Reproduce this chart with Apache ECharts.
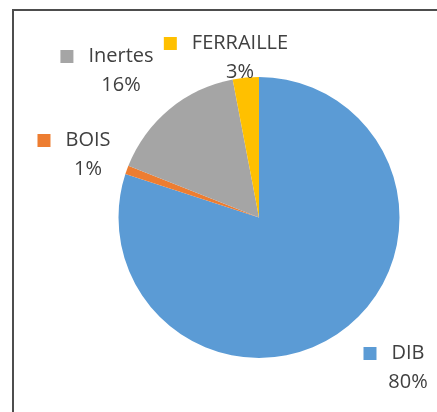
<!DOCTYPE html>
<html>
<head>
<meta charset="utf-8">
<script src="https://cdn.jsdelivr.net/npm/echarts@6/dist/echarts.min.js"></script>
<style>
  html, body { margin: 0; padding: 0; background: #fff; }
  #chart { width: 437px; height: 412px; }
</style>
</head>
<body>
<div id="chart"></div>
<script>
// data
var categories = ['DIB', 'BOIS', 'Inertes', 'FERRAILLE']
var values = [80, 1, 16, 3]
var colors = ['#5B9BD5', '#ED7D31', '#A5A5A5', '#FFC000']

// label anchor (centre of each label block)
var labelPos = [[394, 368], [74, 155], [107, 71], [226, 58]]

var chart = echarts.init(document.getElementById('chart'))

var rich = {
  gap: { width: 28, height: 13 },
  name: { fontSize: 20, lineHeight: 29, padding: [0, 0, 0, 15], color: '#404040' },
  pct: { fontSize: 20, lineHeight: 29, color: '#404040' }
}
colors.forEach(function (c, i) {
  rich['sq' + i] = { width: 13, height: 13, backgroundColor: c }
})

chart.setOption({
  backgroundColor: '#ffffff',
  animation: false,
  color: colors,
  textStyle: { fontFamily: '"Open Sans", sans-serif' },
  graphic: [{
    type: 'rect',
    shape: { x: 13, y: 10, width: 600, height: 600 },
    style: { fill: 'none', stroke: '#4d4d4d', lineWidth: 2 },
    silent: true
  }],
  series: [{
    type: 'pie',
    center: [259, 217.5],
    radius: 140.5,
    startAngle: 90,
    clockwise: true,
    avoidLabelOverlap: false,
    percentPrecision: 0,
    itemStyle: { borderWidth: 0 },
    label: {
      show: true,
      formatter: function (p) {
        return '{sq' + p.dataIndex + '|}{name|' + p.name + '}\n{gap|}{pct|' + Math.round(p.percent) + '%}'
      },
      rich: rich
    },
    labelLine: { show: false },
    labelLayout: function (params) {
      var pos = labelPos[params.dataIndex]
      return { x: pos[0], y: pos[1], align: 'center', verticalAlign: 'middle' }
    },
    emphasis: { disabled: true },
    data: categories.map(function (name, i) {
      return { name: name, value: values[i] }
    })
  }]
})
</script>
</body>
</html>
